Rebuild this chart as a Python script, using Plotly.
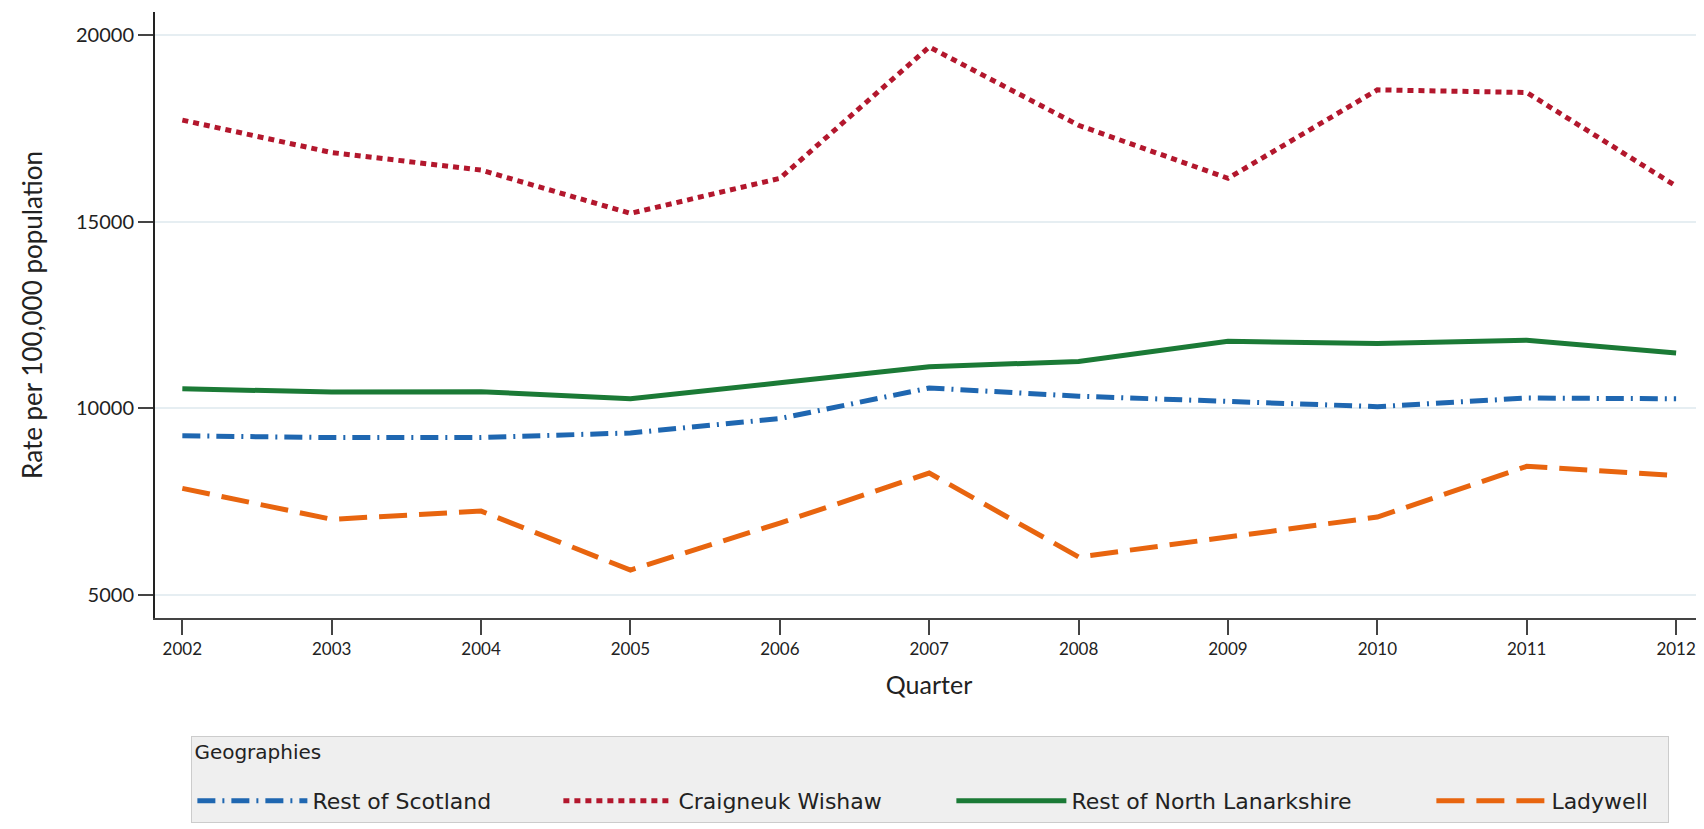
import plotly.graph_objects as go

years = [2002, 2003, 2004, 2005, 2006, 2007, 2008, 2009, 2010, 2011, 2012]
rest_of_scotland = [9260, 9210, 9215, 9335, 9720, 10540, 10320, 10180, 10040, 10270, 10250]
craigneuk_wishaw = [17720, 16850, 16380, 15220, 16160, 19680, 17580, 16160, 18530, 18460, 15950]
rest_of_north_lanarkshire = [10520, 10430, 10440, 10250, 10680, 11110, 11250, 11790, 11730, 11820, 11480]
ladywell = [7850, 7020, 7240, 5660, 6920, 8260, 6010, 6560, 7080, 8440, 8190]
y_ticks = [5000, 10000, 15000, 20000]

# (name, values, colour, dash, legend entry width in px)
series = [
    ("Rest of Scotland", rest_of_scotland, "#1f67b1", "18px,7px,2px,7px", 241),
    ("Craigneuk Wishaw", craigneuk_wishaw, "#b3172d", "6px,5px", 268),
    ("Rest of North Lanarkshire", rest_of_north_lanarkshire, "#1b7a36", "solid", 355),
    ("Ladywell", ladywell, "#e8650f", "28px,12px", 112),
]

FONT = "Lato, Open Sans, sans-serif"
LFONT = "DejaVu Sans, Open Sans, sans-serif"

fig = go.Figure()
for name, vals, color, dash, lw in series:
    fig.add_trace(go.Scatter(
        x=years, y=vals, name=name, mode="lines",
        line=dict(color=color, width=5, dash=dash),
        legendwidth=lw,
    ))

fig.update_layout(
    width=1704, height=829,
    margin=dict(l=147, r=9, t=4, b=219),
    paper_bgcolor="white", plot_bgcolor="white",
    font=dict(family=FONT, size=17, color="#222222"),
    showlegend=True,
    legend=dict(
        orientation="h",
        x=0.0235, xanchor="left",
        y=-0.195, yanchor="top",
        bgcolor="#efefef", bordercolor="#cccccc", borderwidth=1,
        title=dict(text="<span style='font-size:20px'>Geographies</span><br>\u00a0", side="top",
                   font=dict(size=16.5, family=LFONT, color="#222222")),
        font=dict(size=22, family=LFONT, color="#222222"),
        itemwidth=110,
    ),
    xaxis=dict(
        range=[2001.817, 2012.18],
        tickmode="array", tickvals=years, ticktext=[str(y) for y in years],
        showgrid=False, zeroline=False,
        showline=True, linecolor="#444444", linewidth=2,
        ticks="outside", ticklen=15, tickcolor="#444444", tickwidth=1.5,
        tickfont=dict(size=17, family=FONT, color="#222222"),
        title=dict(text="Quarter", font=dict(size=25, family=FONT, color="#222222"), standoff=18),
    ),
    yaxis=dict(
        range=[4375, 20617],
        tickmode="array", tickvals=y_ticks, ticktext=[str(v) for v in y_ticks],
        showgrid=True, gridcolor="#e6eef2", gridwidth=2,
        zeroline=False,
        showline=True, linecolor="#222222", linewidth=2,
        ticks="outside", ticklen=15, tickcolor="#444444", tickwidth=1.5,
        tickfont=dict(size=20, family=FONT, color="#222222"),
        title=dict(text="Rate per 100,000 population", font=dict(size=26, family=FONT, color="#222222"), standoff=26),
    ),
)

fig.write_html("out.html")
